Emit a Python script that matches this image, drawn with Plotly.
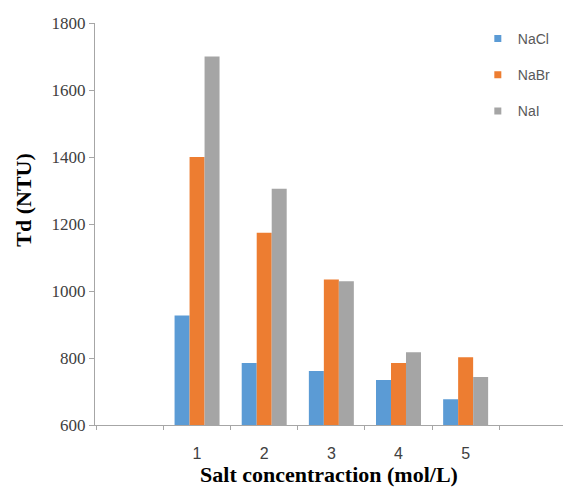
import plotly.graph_objects as go

concentrations = [1, 2, 3, 4, 5]
tick_labels = ["1", "2", "3", "4", "5"]
nacl = [927, 785, 761, 734, 677]
nabr = [1400, 1174, 1034, 785, 802]
nai = [1700, 1305, 1029, 817, 743]

series = [("NaCl", nacl, "#5B9BD5"), ("NaBr", nabr, "#ED7D31"), ("NaI", nai, "#A5A5A5")]

fig = go.Figure()
for name, vals, col in series:
    fig.add_trace(go.Bar(x=concentrations, y=vals, name=name, marker_color=col,
                         marker_line_width=0, showlegend=False))
for name, vals, col in series:
    fig.add_trace(go.Scatter(x=[None], y=[None], mode="markers", name=name,
                             marker=dict(symbol="square", size=7, color=col),
                             legendgroup=name))

axis_col = "#A6A6A6"
fig.update_layout(
    width=563, height=491,
    margin=dict(l=95, r=0, t=23, b=66),
    paper_bgcolor="white", plot_bgcolor="white",
    barmode="group", bargap=0.33, bargroupgap=0,
    showlegend=True,
    legend=dict(x=0.818, y=1.0, xanchor="left", yanchor="top",
                font=dict(family="Liberation Sans", size=14, color="#595959"),
                tracegroupgap=15, itemwidth=30, bgcolor="rgba(0,0,0,0)"),
    xaxis=dict(range=[-0.52, 6.45], tickvals=concentrations, ticktext=tick_labels,
               ticks="", showgrid=False, zeroline=False,
               showline=True, linecolor=axis_col, linewidth=1,
               ticklabelstandoff=14,
               tickfont=dict(family="Liberation Sans", size=16, color="#404040"),
               minor=dict(tickvals=[-0.5, 0.5, 1.5, 2.5, 3.5, 4.5, 5.5], ticks="outside",
                          ticklen=4, tickcolor=axis_col, showgrid=False),
               title=dict(text="<b>Salt concentraction (mol/L)</b>",
                          font=dict(family="Liberation Serif", size=22, color="black"),
                          standoff=3)),
    yaxis=dict(range=[600, 1800], tickvals=[600, 800, 1000, 1200, 1400, 1600, 1800],
               ticks="outside", ticklen=5, tickcolor=axis_col, showgrid=False,
               zeroline=False, showline=True, linecolor=axis_col, linewidth=1,
               tickfont=dict(family="Liberation Serif", size=17, color="#404040")),
    annotations=[dict(text="<b>Td (NTU)</b>", textangle=-90, showarrow=False,
                      xref="paper", yref="paper", x=-0.152, y=0.56,
                      xanchor="center", yanchor="middle",
                      font=dict(family="Liberation Serif", size=22, color="black"))],
)

fig.write_html("out.html")
